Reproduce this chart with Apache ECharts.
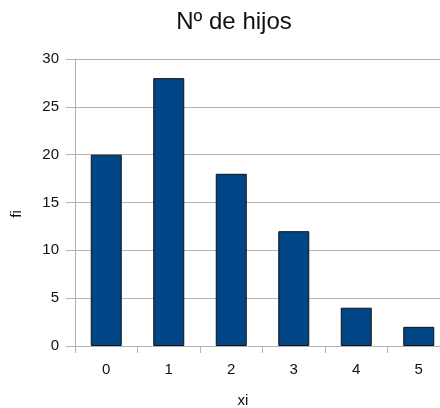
<!DOCTYPE html>
<html>
<head>
<meta charset="utf-8">
<script src="https://cdn.jsdelivr.net/npm/echarts@6/dist/echarts.min.js"></script>
<style>
html, body { margin: 0; padding: 0; background: #fff; }
#chart { width: 440px; height: 408px; }
</style>
</head>
<body>
<div id="chart"></div>
<script>
// datos del gráfico
const categorias = ['0', '1', '2', '3', '4', '5']
const frecuencias = [20, 28, 18, 12, 4, 2]
const titulo = 'Nº de hijos'

const myChart = echarts.init(document.getElementById('chart'))

const gris = '#b3b3b3'
const fuente = 'Liberation Sans, Arial, sans-serif'

const option = {
  backgroundColor: '#fff',
  animation: false,
  title: {
    text: titulo,
    left: 229,
    textAlign: 'center',
    top: 5,
    textStyle: {
      fontFamily: fuente,
      fontSize: 24,
      fontWeight: 'normal',
      color: '#111'
    }
  },
  grid: {
    left: 75,
    top: 59,
    width: 375,
    height: 287,
    containLabel: false,
    outerBoundsMode: 'none'
  },
  xAxis: {
    type: 'category',
    data: categorias,
    name: 'xi',
    nameLocation: 'middle',
    nameGap: 47,
    nameTextStyle: {
      fontFamily: fuente,
      fontSize: 15,
      color: '#111',
      padding: [0, 39, 0, 0]
    },
    axisLine: { lineStyle: { color: gris } },
    axisTick: { show: true, length: 7, lineStyle: { color: gris } },
    axisLabel: {
      margin: 16,
      fontFamily: fuente,
      fontSize: 15,
      color: '#111'
    }
  },
  yAxis: {
    type: 'value',
    min: 0,
    max: 30,
    interval: 5,
    name: 'fi',
    nameLocation: 'middle',
    nameGap: 51,
    nameTextStyle: {
      fontFamily: fuente,
      fontSize: 15,
      color: '#111',
      padding: [0, 23, 0, 0]
    },
    axisLine: { show: true, lineStyle: { color: gris } },
    axisTick: { show: true, length: 9, lineStyle: { color: gris } },
    splitLine: { show: true, lineStyle: { color: gris } },
    axisLabel: {
      margin: 16,
      fontFamily: fuente,
      fontSize: 15,
      color: '#111'
    }
  },
  series: [{
    type: 'bar',
    barWidth: 31,
    data: frecuencias,
    itemStyle: {
      color: '#004586',
      borderColor: '#111',
      borderWidth: 1
    }
  }]
}

myChart.setOption(option)
window.addEventListener('resize', () => {
  myChart.resize()
})
</script>
</body>
</html>
